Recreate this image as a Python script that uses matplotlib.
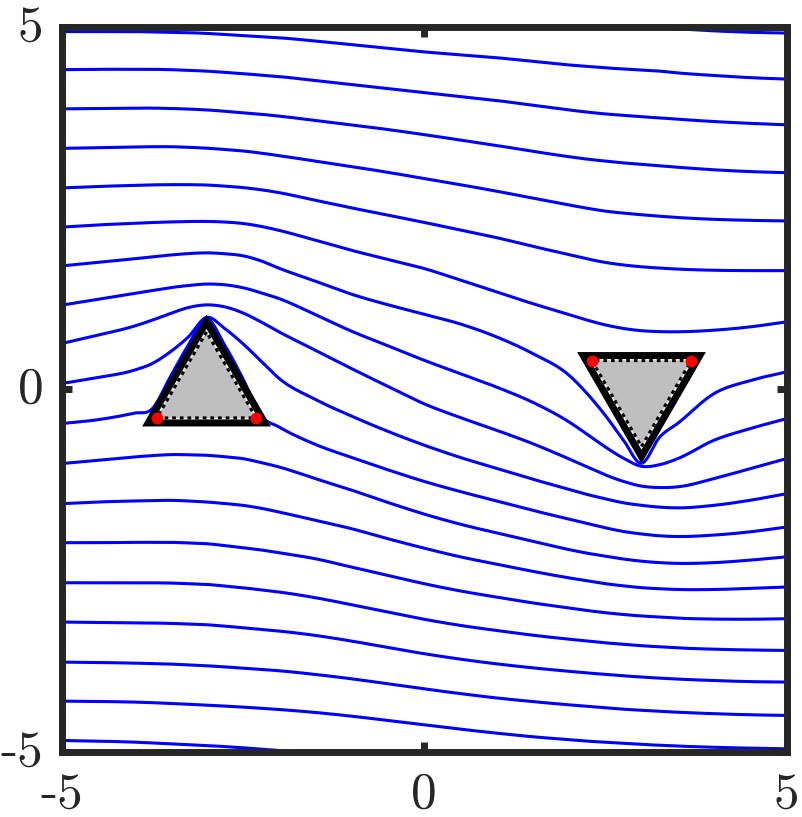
import numpy as np
import matplotlib
matplotlib.use("Agg")
import matplotlib.pyplot as plt
from matplotlib.patches import Polygon
from matplotlib.transforms import ScaledTranslation

nan = np.nan
# ---------------- data ----------------
x_grid = [-5, -4.5, -4, -3.75, -3.5, -3.25, -3, -2.75, -2.5, -2.25, -2, -1.5, -1, -0.5,
          0, 0.5, 1, 1.5, 2, 2.25, 2.5, 2.75, 3, 3.25, 3.5, 4, 4.5, 5]

stream_00 = [nan]*20 + [5.08, 5.04, 5.01, 4.99, 4.97, 4.94, 4.92, 4.91]
stream_01 = [4.93, 4.93, 4.93, 4.925, 4.92, 4.915, 4.905, 4.89, 4.875, 4.86, 4.845, 4.80, 4.75, 4.70,
             4.65, 4.61, 4.57, 4.52, 4.47, 4.45, 4.43, 4.415, 4.40, 4.385, 4.36, 4.325, 4.295, 4.275]
stream_02 = [4.405, 4.41, 4.41, 4.41, 4.405, 4.395, 4.385, 4.368, 4.35, 4.33, 4.31, 4.255, 4.20, 4.145,
             4.09, 4.035, 3.98, 3.915, 3.85, 3.82, 3.795, 3.775, 3.755, 3.74, 3.722, 3.69, 3.665, 3.645]
stream_03 = [3.865, 3.87, 3.875, 3.875, 3.87, 3.862, 3.85, 3.832, 3.81, 3.79, 3.765, 3.705, 3.645, 3.58,
             3.51, 3.435, 3.36, 3.28, 3.205, 3.172, 3.145, 3.12, 3.10, 3.08, 3.06, 3.025, 3.0, 2.985]
stream_04 = [3.32, 3.33, 3.34, 3.343, 3.343, 3.335, 3.323, 3.305, 3.285, 3.255, 3.22, 3.145, 3.07, 2.99,
             2.905, 2.82, 2.73, 2.635, 2.54, 2.495, 2.455, 2.428, 2.405, 2.385, 2.367, 2.342, 2.328, 2.32]
stream_05 = [2.775, 2.795, 2.81, 2.817, 2.82, 2.82, 2.815, 2.80, 2.78, 2.75, 2.71, 2.605, 2.50, 2.40,
             2.30, 2.195, 2.09, 1.97, 1.855, 1.797, 1.748, 1.713, 1.688, 1.67, 1.656, 1.64, 1.635, 1.635]
stream_06 = [2.235, 2.265, 2.287, 2.298, 2.306, 2.312, 2.313, 2.305, 2.285, 2.245, 2.19, 2.055, 1.915, 1.79,
             1.665, 1.505, 1.34, 1.18, 1.03, 0.953, 0.887, 0.838, 0.807, 0.794, 0.792, 0.814, 0.86, 0.929]
stream_07 = [1.70, 1.75, 1.798, 1.825, 1.85, 1.87, 1.88, 1.868, 1.84, 1.77, 1.668, 1.49, 1.31, 1.165,
             1.035, 0.90, 0.722, 0.492, 0.193, -0.06, -0.36, -0.70, -1.02, -0.66, -0.47, -0.06, 0.12, 0.239]
stream_08 = [1.159, 1.24, 1.32, 1.36, 1.40, 1.43, 1.45, 1.44, 1.40, 1.33, 1.25, 1.03, 0.80, 0.60,
             0.40, 0.215, 0.03, -0.18, -0.45, -0.62, -0.795, -0.95, -1.062, -1.04, -0.956, -0.703, -0.542, -0.405]
stream_09 = [0.630, 0.745, 0.869, 0.952, 1.044, 1.126, 1.163, 1.136, 1.053, 0.929, 0.791, 0.538, 0.285, 0.04,
             -0.20, -0.39, -0.565, -0.75, -0.96, -1.07, -1.18, -1.27, -1.335, -1.355, -1.345, -1.232, -1.094, -0.956]
stream_10 = [0.078, 0.161, 0.262, 0.354, 0.515, 0.722, 0.99, 0.837, 0.630, 0.39, 0.15, -0.14, -0.37, -0.58,
             -0.77, -0.94, -1.09, -1.24, -1.38, -1.45, -1.51, -1.565, -1.60, -1.625, -1.635, -1.60, -1.53, -1.44]
stream_11 = [-0.473, -0.42, -0.33, -0.27, 0.17, 0.61, 0.97, 0.61, 0.15, -0.36, -0.52, -0.76, -0.94, -1.11,
             -1.27, -1.41, -1.54, -1.67, -1.79, -1.85, -1.91, -1.96, -1.995, -2.02, -2.03, -2.01, -1.965, -1.899]
stream_12 = [-1.025, -0.979, -0.933, -0.915, -0.901, -0.903, -0.910, -0.93, -0.956, -1.01, -1.071, -1.232, -1.39, -1.56,
             -1.72, -1.86, -1.98, -2.095, -2.21, -2.26, -2.30, -2.34, -2.37, -2.39, -2.40, -2.39, -2.355, -2.31]
stream_13 = [-1.577, -1.554, -1.540, -1.535, -1.531, -1.54, -1.554, -1.575, -1.600, -1.64, -1.692, -1.807, -1.922, -2.06,
             -2.19, -2.31, -2.41, -2.51, -2.60, -2.64, -2.68, -2.71, -2.735, -2.75, -2.76, -2.76, -2.745, -2.726]
stream_14 = [-2.115, -2.115, -2.110, -2.110, -2.110, -2.118, -2.129, -2.155, -2.184, -2.215, -2.253, -2.336, -2.451, -2.565,
             -2.68, -2.78, -2.865, -2.945, -3.015, -3.05, -3.08, -3.105, -3.125, -3.14, -3.155, -3.168, -3.17, -3.163]
stream_15 = [-2.667, -2.667, -2.667, -2.668, -2.671, -2.68, -2.690, -2.712, -2.736, -2.765, -2.795, -2.873, -2.97, -3.07,
             -3.17, -3.255, -3.325, -3.39, -3.445, -3.47, -3.495, -3.515, -3.535, -3.55, -3.565, -3.583, -3.594, -3.600]
stream_16 = [-3.209, -3.214, -3.218, -3.222, -3.227, -3.236, -3.246, -3.265, -3.287, -3.31, -3.333, -3.393, -3.471, -3.56,
             -3.645, -3.72, -3.785, -3.84, -3.888, -3.91, -3.93, -3.95, -3.967, -3.982, -3.995, -4.015, -4.03, -4.036]
stream_17 = [-3.761, -3.766, -3.775, -3.781, -3.788, -3.80, -3.811, -3.827, -3.844, -3.862, -3.880, -3.931, -3.991, -4.06,
             -4.13, -4.195, -4.255, -4.305, -4.35, -4.37, -4.39, -4.41, -4.425, -4.44, -4.452, -4.472, -4.487, -4.496]
stream_18 = [-4.299, -4.303, -4.312, -4.32, -4.331, -4.342, -4.354, -4.367, -4.381, -4.397, -4.414, -4.455, -4.506, -4.565,
             -4.625, -4.685, -4.74, -4.79, -4.83, -4.85, -4.865, -4.88, -4.895, -4.907, -4.918, -4.935, -4.947, -4.956]
stream_19 = [-4.841, -4.850, -4.864, -4.875, -4.887, -4.898, -4.910, -4.925, -4.942, -4.96, -4.979, -5.025, -5.08] + [nan]*15

streamlines = [stream_00, stream_01, stream_02, stream_03, stream_04, stream_05, stream_06,
               stream_07, stream_08, stream_09, stream_10, stream_11, stream_12, stream_13,
               stream_14, stream_15, stream_16, stream_17, stream_18, stream_19]

body_center_x = [-3.0, 3.0]
body_center_y = [0.0, 0.0]
body_pointing = ["up", "down"]
outer_radius = 0.93
inner_radius = 0.79

tick_values = [-5, 0, 5]
tick_labels = ["-5", "0", "5"]


# ---------------- helpers ----------------
def smooth_curve(xs, ys, n=30):
    xs = np.asarray(xs, float)
    ys = np.asarray(ys, float)
    ok = ~np.isnan(ys)
    xs, ys = xs[ok], ys[ok]
    k = len(xs)
    m = np.zeros(k)
    for i in range(k):
        if i == 0:
            m[i] = (ys[1] - ys[0]) / (xs[1] - xs[0])
        elif i == k - 1:
            m[i] = (ys[-1] - ys[-2]) / (xs[-1] - xs[-2])
        else:
            h0 = xs[i] - xs[i - 1]
            h1 = xs[i + 1] - xs[i]
            d0 = (ys[i] - ys[i - 1]) / h0
            d1 = (ys[i + 1] - ys[i]) / h1
            m[i] = (d0 * h1 + d1 * h0) / (h0 + h1)
    outx, outy = [], []
    for i in range(k - 1):
        h = xs[i + 1] - xs[i]
        t = np.linspace(0, 1, n, endpoint=(i == k - 2))
        h00 = 2 * t**3 - 3 * t**2 + 1
        h10 = t**3 - 2 * t**2 + t
        h01 = -2 * t**3 + 3 * t**2
        h11 = t**3 - t**2
        outx.append(xs[i] + t * h)
        outy.append(h00 * ys[i] + h10 * h * m[i] + h01 * ys[i + 1] + h11 * h * m[i + 1])
    return np.concatenate(outx), np.concatenate(outy)


def triangle(cx, cy, r, pointing):
    start = 90 if pointing == "up" else 270
    ang = np.deg2rad(np.array([start, start + 120, start + 240]))
    return np.column_stack([cx + r * np.cos(ang), cy + r * np.sin(ang)])


# ---------------- figure ----------------
fig = plt.figure(figsize=(8.02, 8.17), dpi=100)
ax = fig.add_axes([61.5 / 802, 65 / 817, 725 / 802, 725.5 / 817])
ax.set_xlim(-5, 5)
ax.set_ylim(-5, 5)

for ys in streamlines:
    sx, sy = smooth_curve(x_grid, ys)
    ax.plot(sx, sy, color=(0, 0, 1), lw=2.2, zorder=2, solid_capstyle="butt")

for cx, cy, p in zip(body_center_x, body_center_y, body_pointing):
    outer = triangle(cx, cy, outer_radius, p)
    inner = triangle(cx, cy, inner_radius, p)
    ax.add_patch(Polygon(outer, closed=True, facecolor="#eeeeee", edgecolor="black",
                         lw=5, joinstyle="miter", zorder=3))
    ax.add_patch(Polygon(inner, closed=True, facecolor="#bfbfbf", edgecolor="none", zorder=4))
    loop = np.vstack([inner, inner[:1]])
    ax.plot(loop[:, 0], loop[:, 1], color="black", lw=2.2, linestyle=(0, (1.2, 1.3)),
            dash_capstyle="butt", zorder=5)
    base = inner[1:]
    ax.plot(base[:, 0], base[:, 1], "o", color="red", ms=8.5, mec="none", zorder=6)

for s in ax.spines.values():
    s.set_linewidth(5)
    s.set_color("#262626")
    s.set_capstyle("projecting")
    s.set_zorder(7)

ax.set_xticks(tick_values)
ax.set_yticks(tick_values)
ax.set_xticklabels(tick_labels, fontname="cmr10")
ax.set_yticklabels(tick_labels, fontname="cmr10")
ax.tick_params(direction="in", length=7.5, width=5, color="#262626", top=True, right=True,
               labelsize=37, labelcolor="#262626")
ax.tick_params(axis="x", pad=14)
ax.tick_params(axis="y", pad=13)
shift_up = ScaledTranslation(0, 4 / 100, fig.dpi_scale_trans)
for lab in ax.get_yticklabels():
    lab.set_transform(lab.get_transform() + shift_up)

fig.savefig("out.png", dpi=100, facecolor="white")
